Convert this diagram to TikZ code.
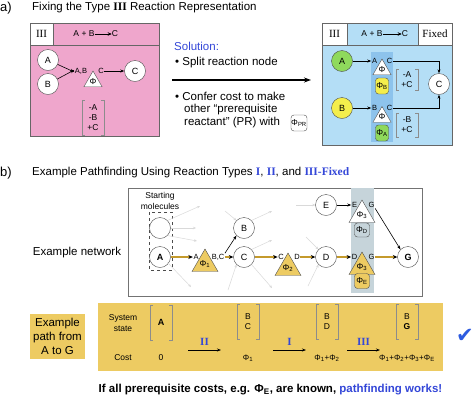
\documentclass[tikz,border=0pt]{standalone}
\usepackage{fontspec}
\setmainfont{Liberation Sans}
\newfontfamily\tms{Liberation Serif}
\newfontfamily\djv{DejaVu Sans}
\usetikzlibrary{shapes.geometric,arrows.meta}
\definecolor{pinkbg}{HTML}{EFA6CC}
\definecolor{bluebg}{HTML}{B4DEF6}
\definecolor{bluestrip}{HTML}{8DC3EC}
\definecolor{greenc}{HTML}{8FD95C}
\definecolor{yellowc}{HTML}{F4EE4C}
\definecolor{gold}{HTML}{EDCB62}
\definecolor{goldln}{HTML}{C49A2C}
\definecolor{graystrip}{HTML}{C6D4DA}
\definecolor{txtblue}{HTML}{3447D8}
\definecolor{chk}{HTML}{2D5BE0}
\newcommand\vbrk[1]{%
  \draw[brkl] ([xshift=3pt]#1.north west) -- (#1.north west) -- (#1.south west) -- ([xshift=3pt]#1.south west);
  \draw[brkl] ([xshift=-3pt]#1.north east) -- (#1.north east) -- (#1.south east) -- ([xshift=-3pt]#1.south east);}
\begin{document}
\begin{tikzpicture}[x=1pt,y=-1pt,
  font=\fontsize{11.5}{13.5}\selectfont,
  circ/.style={circle,draw=black!70,fill=white,minimum size=21pt,inner sep=0pt,font=\fontsize{9}{10}\selectfont},
  tri/.style={regular polygon,regular polygon sides=3,draw=black!70,fill=white,minimum size=21pt,inner sep=0pt,font=\fontsize{8.5}{9}\selectfont},
  phibox/.style={draw=black!70,rounded corners=3pt,minimum width=13pt,minimum height=16pt,inner sep=0pt,font=\fontsize{8.5}{9}\selectfont},
  lbl/.style={inner sep=0.5pt,font=\fontsize{7.5}{8}\selectfont},
  vec/.style={inner sep=0pt,align=center,minimum width=22pt,font=\fontsize{8.5}{10}\selectfont},
  brkl/.style={draw=black!45,line width=0.5pt},
  arr/.style={-{Stealth[length=4pt,width=3pt]},line width=0.6pt},
  garr/.style={-{Stealth[length=4.5pt,width=4pt,black]},line width=1.7pt,draw=goldln},
  farr/.style={-{Stealth[length=3pt,width=2.5pt]},line width=0.5pt,draw=black!15},
  hdr/.style={inner sep=0pt,font=\fontsize{8.5}{10}\selectfont},
  roman/.style={inner sep=0pt,font=\tms\fontsize{11}{12}\selectfont},
  sectitle/.style={anchor=west,inner sep=0pt},
]
\useasboundingbox (0,0) rectangle (474,400);
\fill[white] (0,0) rectangle (474,400);

% ---------- a) ----------
\node[anchor=west,inner sep=0pt,font=\fontsize{13}{15}\selectfont] (la) at (0,8) {a)};
\node[sectitle] (ta) at (32,8) {Fixing the Type {\tms\bfseries III} Reaction Representation};

% pink box
\draw[black!60,fill=pinkbg] (30,23) rectangle (159,136);
\draw[black!60] (30,45) -- (159,45);
\draw[black!60,fill=white] (30,23) rectangle (53,45);
\node[roman] (p3) at (41.5,34) {III};
\node[hdr] (pab) at (84,34) {A + B};
\node[hdr] (pc) at (115,34) {C};
\draw[-{Stealth[length=4pt,width=3.5pt]},line width=0.9pt] (pab.east) -- (pc.west);

\node[circ] (pA) at (48,60) {A};
\node[circ] (pB) at (48,84) {B};
\node[tri] (pphi) at (93,81.5) {Φ};
\node[lbl] (pabl) at (81,71) {A,B};
\node[lbl] (pcl) at (101,71) {C};
\node[circ] (pC) at (135,71) {C};
\draw[arr] (pA) -- ([yshift=-1pt]pabl.west);
\draw[arr] (pB) -- ([yshift=1pt]pabl.west);
\draw[arr] (pcl.east) -- (pC);
\node[vec,minimum height=35pt] (pv) at (93,117.5) {-A\\-B\\+C};
\vbrk{pv}

% solution text
\node[anchor=west,inner sep=0pt,text=txtblue] (sol) at (174,46) {Solution:};
\node[anchor=west,inner sep=0pt] (s1) at (175,63) {\textbullet\ Split reaction node};
\coordinate (sa) at (172,80);
\coordinate (sb) at (311,80);
\draw[-{Stealth[length=7pt,width=5pt]},line width=1.1pt] (sa) -- (sb);
\node[anchor=west,inner sep=0pt] (s2) at (175,96) {\textbullet\ Confer cost to make};
\node[anchor=west,inner sep=0pt] (s3) at (184,109.5) {other “prerequisite};
\node[anchor=west,inner sep=0pt] (s4) at (184,123) {reactant” (PR) with};
\node[phibox,minimum width=16pt] (spr) at (299,123) {Φ\textsubscript{PR}};

% blue box
\draw[black!60,fill=bluebg] (322,23) rectangle (452,145);
\draw[black!60] (322,45) -- (452,45);
\draw[black!60,fill=white] (322,23) rectangle (347,45);
\draw[black!60,fill=white] (418,23) rectangle (452,45);
\node[roman] (b3) at (334.5,34) {III};
\node[roman] (bfx) at (435,34) {Fixed};
\node[hdr] (bab) at (372,34) {A + B};
\node[hdr] (bc) at (405,34) {C};
\draw[-{Stealth[length=4pt,width=3.5pt]},line width=0.9pt] (bab.east) -- (bc.west);
\fill[bluestrip] (371,52) rectangle (393,142);

\node[circ,fill=greenc] (bA) at (342,61) {A};
\node[circ,fill=yellowc] (bB) at (342,108) {B};
\node[tri] (bt1) at (382,69.5) {Φ};
\node[lbl] (ba1) at (374.5,61) {A};
\node[lbl] (bc1) at (389.5,61) {C};
\node[phibox,fill=yellowc] (bpb) at (382,86) {Φ\textsubscript{B}};
\node[vec,minimum height=21pt] (bv1) at (407,79.5) {-A\\+C};
\vbrk{bv1}
\node[circ] (bC) at (439,84) {C};
\node[tri] (bt2) at (382,117) {Φ};
\node[lbl] (bb2) at (374.5,108) {B};
\node[lbl] (bc2) at (389.5,108) {C};
\node[phibox,fill=greenc] (bpa) at (382,133) {Φ\textsubscript{A}};
\node[vec,minimum height=24pt] (bv2) at (407,125) {-B\\+C};
\vbrk{bv2}
\draw[arr] (bA) -- (ba1.west);
\draw[arr] (bB) -- (bb2.west);
\draw[arr,line width=0.5pt] (bc1.east) -| (bC.north);
\draw[arr,line width=0.5pt] (bc2.east) -| (bC.south);

% ---------- b) ----------
\node[anchor=west,inner sep=0pt,font=\fontsize{13}{15}\selectfont] (lb) at (0,173) {b)};
\node[sectitle] (tb) at (32,173) {Example Pathfinding Using Reaction Types {\tms\bfseries\color{txtblue}I}, {\tms\bfseries\color{txtblue}II}, and {\tms\bfseries\color{txtblue}III-Fixed}};

\node[inner sep=0pt] (exn) at (77,253) {Example network};

% network box
\draw[black!55,line width=0.8pt,fill=white] (128,188) rectangle (422,296);
\fill[graystrip] (351,188) rectangle (374,293);

\node[inner sep=0pt,align=center,font=\fontsize{8.5}{10.5}\selectfont] (stm) at (160,201) {Starting\\molecules};
\draw[dashed,black!70,line width=0.5pt] (149,212) rectangle (172,270);
\node[circ] (n0) at (160,228) {};
\node[circ,font=\fontsize{9}{10}\selectfont\bfseries] (nA) at (160,257) {A};
\node[circ] (nB) at (244,228) {B};
\node[circ] (nC) at (244,257) {C};
\node[circ] (nD) at (326,257) {D};
\node[circ] (nE) at (326,205) {E};
\node[circ,font=\fontsize{9}{10}\selectfont\bfseries] (nG) at (408,257) {G};

\node[tri,fill=gold,minimum size=24pt] (t1) at (205,264) {Φ\textsubscript{1}};
\node[lbl] (l1a) at (196,257) {A};
\node[lbl] (l1b) at (218,257) {B,C};
\node[tri,fill=gold,minimum size=24pt] (t2) at (288,268) {Φ\textsubscript{2}};
\node[lbl] (l2a) at (281,257) {C};
\node[lbl] (l2b) at (297,257) {D};
\node[tri,minimum size=22pt] (t3) at (362,215) {Φ\textsubscript{3}};
\node[lbl] (l3a) at (354.5,205) {E};
\node[lbl] (l3b) at (371.5,205) {G};
\node[phibox,minimum width=15pt,minimum height=14pt] (pD) at (362,230) {Φ\textsubscript{D}};
\node[tri,fill=gold,minimum size=22pt] (t4) at (362,267) {Φ\textsubscript{3}};
\node[lbl] (l4a) at (354.5,257) {D};
\node[lbl] (l4b) at (371.5,257) {G};
\node[phibox,fill=gold,minimum width=15pt,minimum height=15pt] (pE) at (362,281) {Φ\textsubscript{E}};

% faint gray arrows
\coordinate (f1) at (200,206);
\coordinate (f2) at (196,228);
\coordinate (f3) at (197,241);
\coordinate (f4) at (191,287);
\coordinate (f5) at (225,211);
\coordinate (f6) at (272,211);
\coordinate (f7) at (272,240);
\coordinate (f8) at (272,288);
\coordinate (f9) at (228,290);
\coordinate (f10) at (306,237);
\coordinate (f11) at (308,286);
\coordinate (f12) at (296,205);
\draw[farr] (n0.north east) -- (f1);
\draw[farr] (n0.east) -- (f2);
\draw[farr] (n0.south east) -- (f3);
\draw[farr] ([yshift=2pt]nA.south east) -- (f4);
\draw[farr] (f5) -- (nB.north west);
\draw[farr] (nB.north east) -- (f6);
\draw[farr] (nC.north east) -- (f7);
\draw[farr] (nC.south east) -- (f8);
\draw[farr] (f9) -- (nC.south west);
\draw[farr] (f10) -- (nD.north west);
\draw[farr] (f11) -- (nD.south west);
\draw[farr] (f12) -- (nE.west);

% main arrows
\draw[garr] (nA) -- (l1a.west);
\draw[garr] (l1b.east) -- (nC);
\draw[arr] (l1b.north east) -- (nB.south west);
\draw[garr] (nC) -- (l2a.west);
\draw[garr] (l2b.east) -- (nD);
\draw[garr] (nD) -- (l4a.west);
\draw[garr] (l4b.east) -- (nG);
\draw[arr] (nE) -- (l3a.west);
\draw[arr] (l3b.south east) -- (nG.north west);

% path box
\fill[gold] (98,303) rectangle (443,371);
\node[fill=gold,minimum width=55pt,minimum height=45pt,inner sep=0pt,align=center,font=\fontsize{11.5}{14}\selectfont] (ep) at (57.5,336.5) {Example\\path from\\A to G};
\node[inner sep=0pt,align=center,font=\fontsize{8.5}{10.5}\selectfont] (ss) at (123,323) {System\\state};
\node[inner sep=0pt,font=\fontsize{8.5}{9}\selectfont] (cst) at (123,358) {Cost};

\node[vec,minimum height=35pt,font=\fontsize{9}{10}\selectfont\bfseries] (v1) at (161,322.5) {A};
\vbrk{v1}
\node[vec,minimum height=35pt] (v2) at (248,321.5) {B\\C};
\vbrk{v2}
\node[vec,minimum height=35pt] (v3) at (327,321.5) {B\\D};
\vbrk{v3}
\node[vec,minimum height=35pt] (v4) at (407,321.5) {B\\\textbf{G}};
\vbrk{v4}

\node[lbl,font=\fontsize{8.5}{9}\selectfont] (c1) at (161,358) {0};
\node[lbl,font=\fontsize{8}{9}\selectfont] (c2) at (248,358) {Φ\textsubscript{1}};
\node[lbl,font=\fontsize{8}{9}\selectfont] (c3) at (327,358) {Φ\textsubscript{1}+Φ\textsubscript{2}};
\node[lbl,font=\fontsize{8}{9}\selectfont] (c4) at (407,358) {Φ\textsubscript{1}+Φ\textsubscript{2}+Φ\textsubscript{3}+Φ\textsubscript{E}};

\coordinate (a1s) at (188,350); \coordinate (a1e) at (221,350);
\coordinate (a2s) at (273,350); \coordinate (a2e) at (306,350);
\coordinate (a3s) at (347,350); \coordinate (a3e) at (380,350);
\draw[arr] (a1s) -- (a1e);
\draw[arr] (a2s) -- (a2e);
\draw[arr] (a3s) -- (a3e);
\node[inner sep=0pt,text=txtblue,font=\tms\bfseries\fontsize{11}{12}\selectfont] (r2) at (204.5,342) {II};
\node[inner sep=0pt,text=txtblue,font=\tms\bfseries\fontsize{11}{12}\selectfont] (r1) at (289.5,342) {I};
\node[inner sep=0pt,text=txtblue,font=\tms\bfseries\fontsize{11}{12}\selectfont] (r3) at (363.5,342) {III};

\node[inner sep=0pt,text=chk,font=\djv\fontsize{21}{23}\selectfont] (ck) at (465,336) {✔};

\node[inner sep=0pt,font=\bfseries\fontsize{11.5}{13}\selectfont] (concl) at (270.5,390) {If all prerequisite costs, e.g. Φ\textsubscript{E}, are known, {\color{txtblue}pathfinding works!}};
\end{tikzpicture}
\end{document}
